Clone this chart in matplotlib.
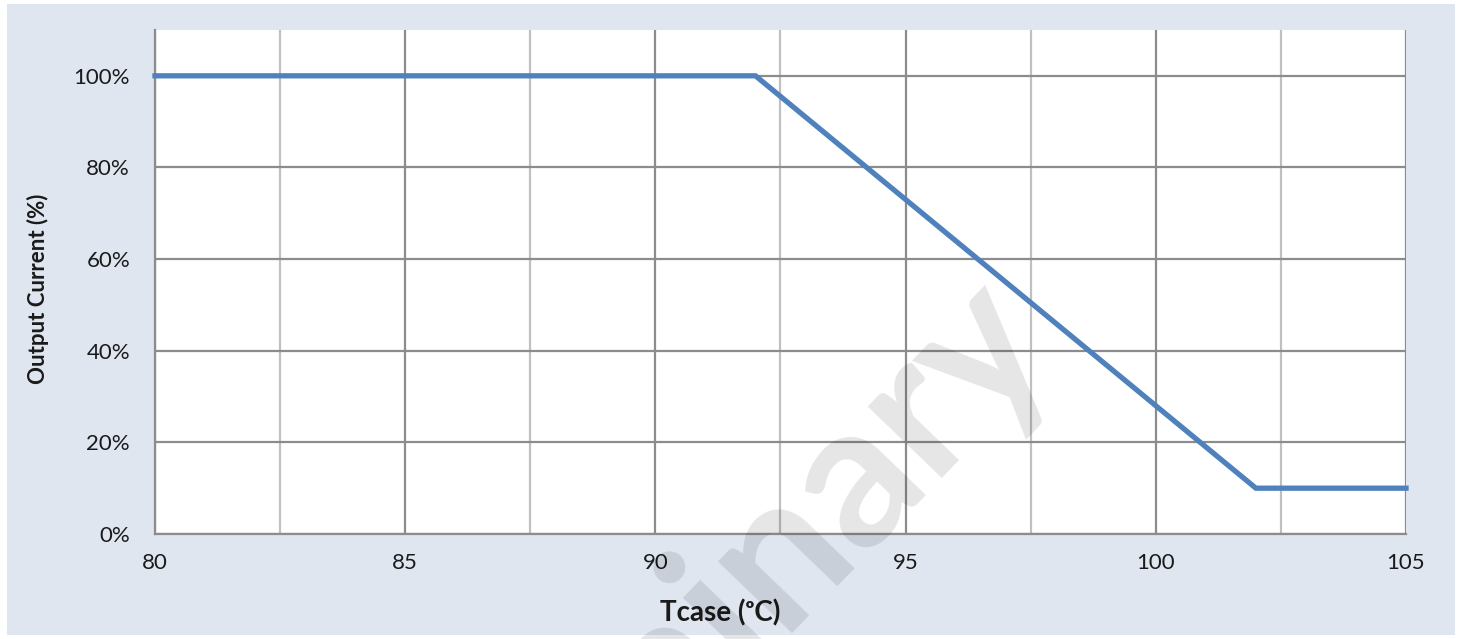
import matplotlib.pyplot as plt
from matplotlib.patches import Rectangle
from matplotlib.ticker import MultipleLocator, PercentFormatter

# derating curve
tcase = [80, 92, 102, 105]
current = [1.00, 1.00, 0.10, 0.10]
xticks = [80, 85, 90, 95, 100, 105]
yticks = [0.0, 0.2, 0.4, 0.6, 0.8, 1.0]

plt.rcParams['font.family'] = ['Lato', 'DejaVu Sans']
bg = '#dfe6f0'
dark_grid = '#8c8c8c'
light_grid = '#c0c0c0'

fig = plt.figure(figsize=(14.65, 6.39), dpi=100, facecolor='white')
fig.patches.append(Rectangle((7 / 1465, 4 / 639), 1448 / 1465, 631 / 639,
                             transform=fig.transFigure, facecolor=bg,
                             edgecolor='none', zorder=-10))

ax = fig.add_axes([155 / 1465, 1 - 534 / 639, 1251 / 1465, 504 / 639])
ax.set_facecolor('white')
ax.set_xlim(80, 105)
ax.set_ylim(0, 1.1)

ax.set_xticks(xticks)
ax.xaxis.set_minor_locator(MultipleLocator(2.5))
ax.set_yticks(yticks)
ax.yaxis.set_major_formatter(PercentFormatter(1.0, decimals=0))

ax.grid(True, which='major', axis='y', color=dark_grid, lw=1.6)
ax.grid(True, which='major', axis='x', color=dark_grid, lw=1.6)
ax.grid(True, which='minor', axis='x', color=light_grid, lw=1.6)
ax.set_axisbelow(True)

for s in ['top', 'right']:
    ax.spines[s].set_visible(False)
for s in ['left', 'bottom']:
    ax.spines[s].set_color(dark_grid)
    ax.spines[s].set_linewidth(1.6)

ax.tick_params(which='both', length=0, labelsize=16, colors='#1a1a1a')
ax.tick_params(axis='x', pad=14)
ax.tick_params(axis='y', pad=18)

ax.plot(tcase, current, color='#4f81bd', lw=3.8, solid_joinstyle='miter',
        clip_on=False, zorder=3)

fig.text(720 / 1465, 1 - 613 / 639, 'Tcase (\u1d52C)', ha='center', va='center',
         fontsize=20, fontweight='bold', color='#1a1a1a')
fig.text(38 / 1465, 1 - 289 / 639, 'Output Current (%)', ha='center', va='center',
         rotation=90, fontsize=16, fontweight='bold', color='#1a1a1a')

# watermark
fig.text(658 / 1465, 1 - 672 / 639, 'Preliminary', ha='center', va='center',
         rotation=46, rotation_mode='anchor', fontsize=145, fontweight='bold',
         color='black', alpha=0.1, zorder=10)

fig.savefig('out.png', dpi=100, facecolor='white')
